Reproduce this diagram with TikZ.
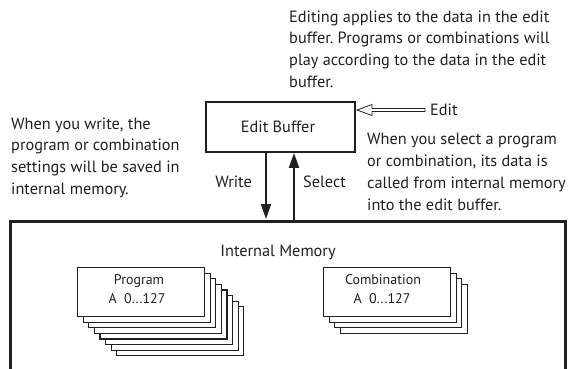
\documentclass[tikz,border=0pt]{standalone}
\usepackage{fontspec}
\setmainfont{PT Sans}
\frenchspacing
\usetikzlibrary{arrows.meta,calc}
\definecolor{ink}{RGB}{35,31,32}
\begin{document}
\begin{tikzpicture}[x=1pt,y=-1pt,
  every node/.style={text=ink},
  para/.style={align=left,anchor=north west,inner sep=0pt,font=\fontsize{16.3}{21.8}\selectfont},
  lbl/.style={inner sep=0pt,font=\fontsize{16.3}{20}\selectfont},
  card/.style={draw=ink,fill=white,line width=1.1pt,minimum width=127pt,minimum height=49pt,inner sep=0pt,anchor=north west},
  cardtext/.style={font=\fontsize{14}{18}\selectfont,inner sep=0pt,anchor=base},
  flow/.style={draw=ink,line width=2pt,-{Triangle[length=15pt,width=10pt]}}]
\useasboundingbox (0,0) rectangle (574,369);
% text blocks
\node[para] (toptext) at (289,10.3) {Editing applies to the data in the edit\\buffer. Programs or combinations will\\play according to the data in the edit\\buffer.};
\node[para] (lefttext) at (11,117.3) {When you write, the\\program or combination\\settings will be saved in\\internal memory.};
\node[para] (righttext) at (367,133.3) {When you select a program\\or combination, its data is\\called from internal memory\\into the edit buffer.};
% edit buffer
\node[draw=ink,line width=2pt,minimum width=149pt,minimum height=50pt,inner sep=0pt] (eb) at (280.5,127) {};
\node[lbl,anchor=base] (ebtext) at (278,133) {Edit Buffer};
% edit arrow
\coordinate (edtip) at ([yshift=17pt,xshift=1pt]eb.east);
\draw[ink,line width=0.8pt,fill=white] (edtip) -- ++(15,-5.5) -- ++(0,4) -- ++(53,0) -- ++(0,3) -- ++(-53,0) -- ++(0,4) -- cycle;
\node[lbl,anchor=base west] (edit) at (430,115.5) {Edit};
% memory frame
\coordinate (fbl) at (10,372);
\coordinate (ftl) at (10,221);
\coordinate (ftr) at (565,221);
\coordinate (fbr) at (565,372);
\draw[ink,line width=3pt] (fbl) -- (ftl) -- (ftr) -- (fbr);
% write / select
\coordinate (wtop) at ([xshift=-14.5pt]eb.south);
\coordinate (wbot) at (wtop |- ftl);
\coordinate (sbot) at ([xshift=13.5pt]eb.south);
\coordinate (stop) at (sbot |- ftl);
\draw[flow] (wtop) -- ([yshift=2pt]wbot);
\draw[flow] ([yshift=1.5pt]stop) -- (sbot);
\node[lbl,anchor=base east] (write) at (252,188) {Write};
\node[lbl,anchor=base west] (select) at (303,188) {Select};
% internal memory
\node[lbl,anchor=base] (im) at (278,256) {Internal Memory};
% program stack
\foreach \i in {7,6,...,1} {
  \node[card] (prog\i) at (77+5.6*\i,267+5.6*\i) {};
}
\node[card,line width=1.4pt] (prog0) at (77,267) {};
\node[cardtext] (progname) at (139,284) {Program};
\node[cardtext] (prognum) at (137,303) {A\ \ 0...127};
% combination stack
\foreach \i in {3,2,1} {
  \node[card] (comb\i) at (323+5.6*\i,267+5.6*\i) {};
}
\node[card,line width=1.4pt] (comb0) at (323,267) {};
\node[cardtext] (combname) at (383,284) {Combination};
\node[cardtext] (combnum) at (382,303) {A\ \ 0...127};
\end{tikzpicture}
\end{document}
